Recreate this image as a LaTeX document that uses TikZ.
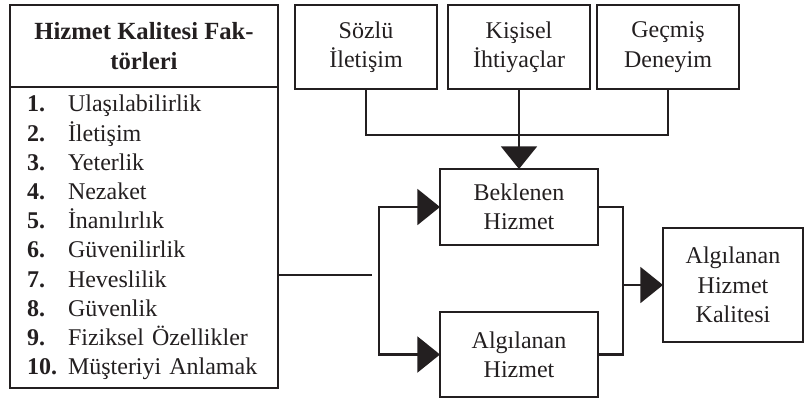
\documentclass[tikz,border=0pt]{standalone}
\usepackage{fontspec}
\setmainfont{Liberation Serif}
\usepackage{tikz}
\usetikzlibrary{arrows.meta, positioning}
\definecolor{mydark}{RGB}{35,31,32}
\newcommand{\madde}[2]{\mbox{\makebox[30.75pt][l]{\bfseries #1}#2}}
\tikzset{
  kutu/.style={rectangle, draw=mydark, text=mydark, line width=1.6pt,
    align=center, inner sep=0pt, outer sep=0pt,
    font=\fontsize{18}{22}\selectfont},
  ustkutu/.style={kutu, minimum width=106.5pt, minimum height=63pt},
  ortakutu/.style={kutu, minimum width=118.5pt},
  liste/.style={kutu, align=left, inner xsep=12.75pt, inner ysep=0pt,
    text width=175.5pt, minimum height=225.75pt,
    font=\fontsize{18}{21.9}\selectfont},
  hat/.style={line width=1.6pt, draw=mydark},
  >={Triangle[length=17pt, width=27pt]}
}
\begin{document}
\begin{tikzpicture}[x=0.75pt, y=-0.75pt, node distance=8pt and 8pt]
  \useasboundingbox (0,0) rectangle (806,401);

  \node[kutu, minimum width=201pt, minimum height=61.5pt,
    font=\bfseries\fontsize{18.5}{22}\selectfont] (baslik) at (144,46)
    {Hizmet Kalitesi Fak-\\törleri};
  \node[liste, below=0pt of baslik] (faktor)
    {\madde{1.}{Ulaşılabilirlik}\\
     \madde{2.}{İletişim}\\
     \madde{3.}{Yeterlik}\\
     \madde{4.}{Nezaket}\\
     \madde{5.}{İnanılırlık}\\
     \madde{6.}{Güvenilirlik}\\
     \madde{7.}{Heveslilik}\\
     \madde{8.}{Güvenlik}\\
     \madde{9.}{Fiziksel Özellikler}\\
     \madde{10.}{Müşteriyi Anlamak}};

  \node[ustkutu] (sozlu) at (366,47) {Sözlü\\İletişim};
  \node[ustkutu, right=8.25pt of sozlu]   (kisisel) {Kişisel\\İhtiyaçlar};
  \node[ustkutu, right=5.25pt of kisisel] (gecmis)  {Geçmiş\\Deneyim};

  \node[ortakutu, minimum height=57pt, below=60pt of kisisel] (beklenen) {Beklenen\\Hizmet};
  \node[ortakutu, minimum height=63.75pt, below=50.25pt of beklenen] (algilanan) {Algılanan\\Hizmet};
  \node[kutu, minimum width=105pt, minimum height=85.5pt] (kalite) at (733,285)
    {Algılanan\\Hizmet\\Kalitesi};

  \coordinate (kol) at (372,275);
  \coordinate (dal) at (379,275);
  \coordinate (birles) at (623,285);
  \coordinate (ust) at (519,135);

  \draw[hat] (sozlu.south) -- (sozlu.south |- ust) -- (gecmis.south |- ust) -- (gecmis.south);
  \draw[hat, ->] (kisisel.south) -- (beklenen.north);
  \draw[hat] (faktor.east |- kol) -- (kol);
  \draw[hat, <->] (beklenen.west) -- (beklenen.west -| dal) -- (algilanan.west -| dal) -- (algilanan.west);
  \draw[hat] (beklenen.east) -| (birles) |- (algilanan.east);
  \draw[hat, ->] (birles) -- (kalite.west);
\end{tikzpicture}
\end{document}
